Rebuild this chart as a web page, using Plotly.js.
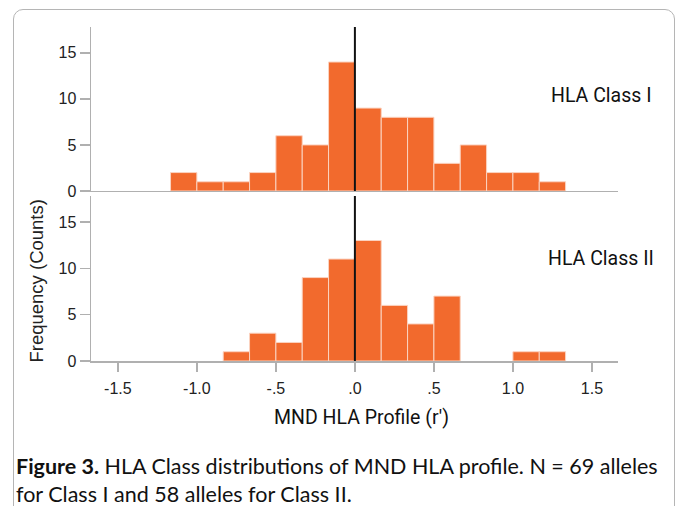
<!DOCTYPE html>
<html>
<head>
<meta charset="utf-8">
<script src="https://cdn.plot.ly/plotly-3.0.1.min.js"></script>
<style>
html,body{margin:0;padding:0;background:#fff;}
#wrap{position:relative;width:680px;height:506px;overflow:hidden;}
#chart{position:absolute;left:0;top:0;width:680px;height:506px;}
#frame{position:absolute;left:13px;top:9px;width:662px;height:540px;border:1.5px solid #b5b5b5;border-radius:10px;pointer-events:none;box-sizing:border-box;}
</style>
</head>
<body>
<div id="wrap"><div id="chart"></div><div id="frame"></div></div>
<script>
// Bin index k covers [k/6, (k+1)/6]
const binIndex = [-7, -6, -5, -4, -3, -2, -1, 0, 1, 2, 3, 4, 5, 6, 7];
const binWidth = 1 / 6;
const countsClassI  = [2, 1, 1, 2, 6, 5, 14, 9, 8, 8, 3, 5, 2, 2, 1];
const countsClassII = [0, 0, 1, 3, 2, 9, 11, 13, 6, 4, 7, 0, 0, 1, 1];
const xTickVals = [-1.5, -1.0, -0.5, 0, 0.5, 1.0, 1.5];
const xTickText = ['-1.5', '-1.0', '-.5', '.0', '.5', '1.0', '1.5'];
const yTickVals = [0, 5, 10, 15];
const panelLabels = ['HLA Class I', 'HLA Class II'];

const centers = binIndex.map(k => (k + 0.5) * binWidth);
const barColor = '#F26A2D';
const barLine = {color: '#FBD3C0', width: 1};
const nz = arr => arr.map(v => (v === 0 ? null : v));

const traces = [
  {type: 'bar', x: centers, y: nz(countsClassI), width: binWidth, xaxis: 'x2', yaxis: 'y2',
   marker: {color: barColor, line: barLine}, hoverinfo: 'x+y'},
  {type: 'bar', x: centers, y: nz(countsClassII), width: binWidth, xaxis: 'x', yaxis: 'y',
   marker: {color: barColor, line: barLine}, hoverinfo: 'x+y'}
];

const axisGrey = '#b0b0b0';
const tickFont = {family: 'Liberation Sans, Arial, sans-serif', size: 16, color: '#222'};
const labelFont = {family: 'Roboto, sans-serif', size: 19.5, color: '#111'};
const yCommon = {
  range: [0, 17.8], tickvals: yTickVals, showgrid: false, zeroline: false,
  showline: true, linecolor: axisGrey, linewidth: 1.5,
  ticks: 'outside', ticklen: 10, tickcolor: axisGrey, tickwidth: 1.5,
  tickfont: tickFont, fixedrange: true
};
const xRange = [-1.67, 1.665];

const layout = {
  width: 680, height: 506,
  margin: {l: 91, r: 62, t: 27, b: 145},
  paper_bgcolor: 'rgba(0,0,0,0)', plot_bgcolor: 'rgba(0,0,0,0)',
  showlegend: false, bargap: 0,
  xaxis: {anchor: 'y', range: xRange, tickvals: xTickVals, ticktext: xTickText,
    showgrid: false, zeroline: false, showline: true, linecolor: axisGrey, linewidth: 1.5,
    ticks: 'outside', ticklen: 9, tickcolor: axisGrey, tickwidth: 1.5, tickfont: tickFont,
    ticklabelstandoff: 3},
  xaxis2: {anchor: 'y2', matches: 'x', range: xRange, showticklabels: false, ticks: '',
    showgrid: false, zeroline: false, showline: true, linecolor: axisGrey, linewidth: 1.5},
  yaxis: Object.assign({}, yCommon, {domain: [0, 0.494]}),
  yaxis2: Object.assign({}, yCommon, {domain: [0.509, 1]}),
  shapes: [
    {type: 'line', xref: 'x', yref: 'y domain', x0: 0, x1: 0, y0: 0, y1: 1, line: {color: '#111', width: 2}},
    {type: 'line', xref: 'x2', yref: 'y2 domain', x0: 0, x1: 0, y0: 0, y1: 1, line: {color: '#111', width: 2}}
  ],
  annotations: [
    {text: panelLabels[0], xref: 'paper', yref: 'paper', x: 0.967, y: 0.795, xanchor: 'center', yanchor: 'middle',
     showarrow: false, font: labelFont},
    {text: panelLabels[1], xref: 'paper', yref: 'paper', x: 0.967, y: 0.307, xanchor: 'center', yanchor: 'middle',
     showarrow: false, font: labelFont},
    {text: "MND HLA Profile (r')", xref: 'paper', yref: 'paper', x: 0.514, y: -0.17, xanchor: 'center', yanchor: 'middle',
     showarrow: false, font: labelFont},
    {text: 'Frequency (Counts)', xref: 'paper', yref: 'paper', x: -0.103, y: 0.24, textangle: -90,
     xanchor: 'center', yanchor: 'middle', showarrow: false,
     font: {family: 'Liberation Sans, Arial, sans-serif', size: 18.5, color: '#222'}},
    {text: '<b>Figure 3.</b> HLA Class distributions of MND HLA profile. N = 69 alleles<br>for Class I and 58 alleles for Class II.',
     xref: 'paper', yref: 'paper', x: -0.146, y: -0.268, xanchor: 'left', yanchor: 'top', align: 'left',
     showarrow: false, font: {family: 'Lato, sans-serif', size: 21.5, color: '#111'}}
  ]
};

Plotly.newPlot('chart', traces, layout, {displayModeBar: false, staticPlot: true});
</script>
</body>
</html>
